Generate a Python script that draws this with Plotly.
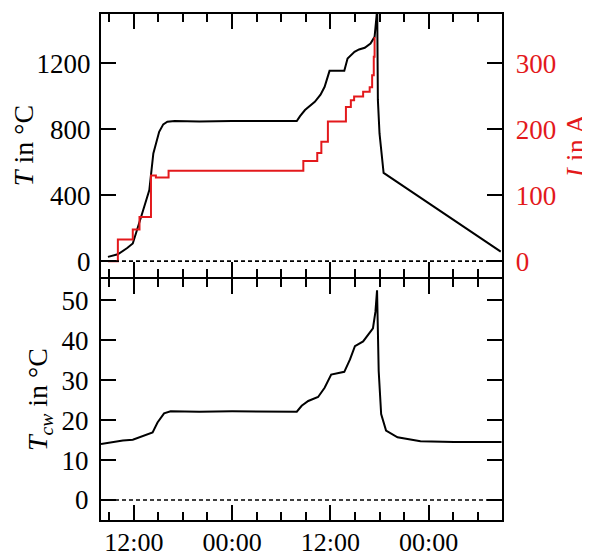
import pandas as pd
import plotly.graph_objects as go
from plotly.subplots import make_subplots

# time axis: hours after 2020-01-01 08:00
base = pd.Timestamp("2020-01-01 08:00")

t_T = [0.85, 2.06, 3.2, 3.88, 4.9, 5.9, 6.39, 7.1, 7.6, 8.1, 9, 12, 16, 20, 23.9, 24.3, 24.9, 26.1,
       26.8, 27.3, 27.9, 29.7, 30.1, 30.95, 31.5, 32.2, 32.9, 33.4, 33.6, 33.72, 33.8, 34.0, 34.5, 48.8]
T_vals = [26, 42, 80, 107, 269, 431, 654, 785, 830, 846, 850, 848, 850, 848, 850, 880, 917, 967,
          1010, 1058, 1155, 1155, 1230, 1270, 1285, 1295, 1321, 1361, 1450, 1530, 980, 775, 536, 58]

t_I = [0.85, 2.06, 3.88, 4.7, 6.1, 6.7, 8.25, 24.7, 26.4, 26.9, 27.7, 29.9, 30.5, 30.9, 32.0, 32.8,
       33.1, 33.3, 33.4]
I_vals = [0, 33, 48, 67, 130, 127, 137, 152, 164, 181, 212, 234, 244, 250, 257, 264, 282, 310, 340]

t_cw = [0, 2.67, 3.88, 5.1, 6.3, 6.9, 7.7, 8.5, 12, 16, 20, 23.9, 24.5, 25.3, 26.5, 27.3, 28.1,
        29.7, 30.4, 31.0, 32.0, 32.6, 33.2, 33.5, 33.7, 33.9, 34.2, 34.8, 36.2, 39, 43.1, 48.9]
Tcw_vals = [14.0, 14.9, 15.1, 16.1, 16.9, 19.4, 21.7, 22.2, 22.1, 22.2, 22.1, 22.1, 23.6, 24.8, 25.8,
            28.1, 31.4, 32.1, 35.2, 38.5, 39.7, 41.4, 43.0, 47.1, 52.5, 32.3, 21.5, 17.4, 15.7, 14.7,
            14.5, 14.5]

T_ticks = [0, 400, 800, 1200]
I_ticks = [0, 100, 200, 300]
Tcw_ticks = [0, 10, 20, 30, 40, 50]


def to_time(hours):
    return base + pd.to_timedelta(hours, unit="h")


RED = "#e3191c"
FONT = "Liberation Serif"
TS = 27   # tick font size
LS = 28   # title font size

fig = make_subplots(rows=2, cols=1, shared_xaxes=True, vertical_spacing=0,
                    specs=[[{"secondary_y": True}], [{}]])

fig.add_trace(go.Scatter(x=to_time(t_T), y=T_vals, mode="lines",
                         line=dict(color="black", width=2)), row=1, col=1, secondary_y=False)
fig.add_trace(go.Scatter(x=to_time(t_I), y=I_vals, mode="lines", line_shape="hv",
                         line=dict(color=RED, width=2)), row=1, col=1, secondary_y=True)
fig.add_trace(go.Scatter(x=to_time(t_cw), y=Tcw_vals, mode="lines",
                         line=dict(color="black", width=2)), row=2, col=1)

fig.add_hline(y=0, line=dict(color="black", width=1.6, dash="4px,3px"), row=1, col=1)
fig.add_hline(y=0, line=dict(color="black", width=1.6, dash="4px,3px"), row=2, col=1)

xcommon = dict(type="date", range=[to_time(0), to_time(49)], showgrid=False, zeroline=False,
               showline=True, linecolor="black", linewidth=2, mirror="ticks", automargin=False,
               ticks="inside", ticklen=15, tickwidth=2, tickcolor="black",
               dtick=12 * 3600 * 1000, tick0="2020-01-01 00:00", tickformat="%H:%M",
               minor=dict(dtick=3 * 3600 * 1000, tick0="2020-01-01 00:00", ticks="inside",
                          ticklen=8, tickwidth=2, tickcolor="black", showgrid=False),
               tickfont=dict(family=FONT, size=26, color="black"), ticklabelstandoff=-2)

fig.update_xaxes(**xcommon, showticklabels=False, row=1, col=1)
fig.update_xaxes(**xcommon, showticklabels=True, row=2, col=1)

ycommon = dict(showgrid=False, zeroline=False, showline=True, linecolor="black", linewidth=2,
               ticks="inside", ticklen=15, tickwidth=2, tickcolor="black", automargin=False)

fig.update_yaxes(**ycommon, mirror=True, range=[-97, 1500], tickvals=T_ticks,
                 tickfont=dict(family=FONT, size=TS, color="black"), ticklabelstandoff=3,
                 title=dict(text="<i>T</i> in °C", font=dict(family=FONT, size=LS, color="black"),
                            standoff=6),
                 row=1, col=1, secondary_y=False)
fig.update_yaxes(**ycommon, range=[-24.25, 375], tickvals=I_ticks,
                 tickfont=dict(family=FONT, size=TS, color=RED), ticklabelstandoff=6,
                 title=dict(text="<i>I</i> in A", font=dict(family=FONT, size=LS, color=RED),
                            standoff=10),
                 row=1, col=1, secondary_y=True)
fig.update_yaxes(**ycommon, mirror="ticks", range=[-5, 55.3], tickvals=Tcw_ticks,
                 tickfont=dict(family=FONT, size=TS, color="black"), ticklabelstandoff=5,
                 title=dict(text="<i>T</i><sub><i>cw</i></sub> in °C",
                            font=dict(family=FONT, size=LS, color="black"), standoff=6),
                 row=2, col=1)

fig.update_layout(width=590, height=557, showlegend=False,
                  plot_bgcolor="white", paper_bgcolor="white",
                  margin=dict(l=93, r=70, t=6, b=45))
fig.layout.yaxis.domain = [0.48, 1.0]
fig.layout.yaxis2.domain = [0.48, 1.0]
fig.layout.yaxis3.domain = [0.0, 0.48 - 2 / 506]

fig.write_html("out.html")
